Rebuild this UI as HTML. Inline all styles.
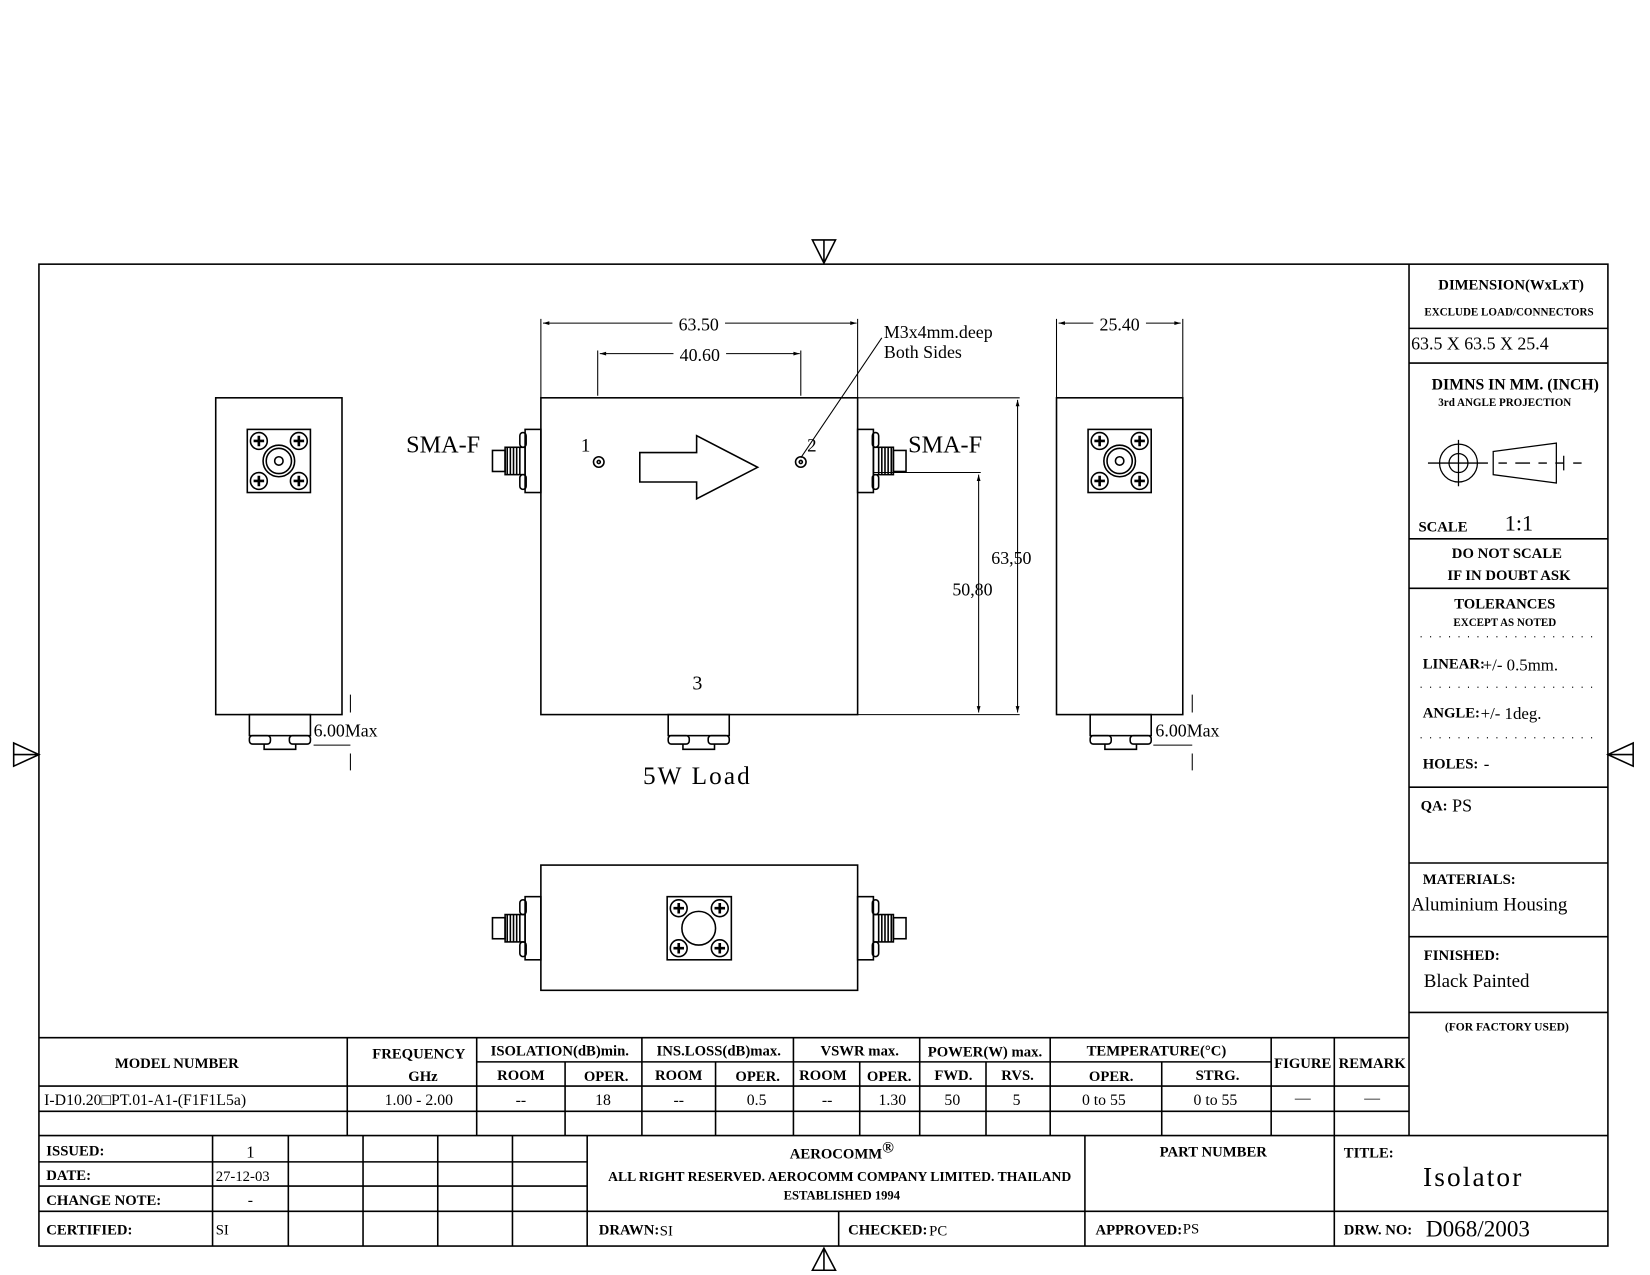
<!DOCTYPE html>
<html><head><meta charset="utf-8"><style>
html,body{margin:0;padding:0;background:#fff;}
svg{display:block}
text{font-family:"Liberation Serif",serif;fill:#000}
.b{font-weight:bold}
.s{font-family:"Liberation Sans",sans-serif}
</style></head><body>
<svg width="1650" height="1275" viewBox="0 0 1568 1211.5" preserveAspectRatio="none" xmlns="http://www.w3.org/2000/svg">
<defs>
<marker id="a" viewBox="0 0 10 10" refX="10" refY="5" markerWidth="10" markerHeight="6" orient="auto-start-reverse"><path d="M0,2 L10,5 L0,8 z" fill="#000"/></marker>
<g id="conn"><rect x="0" y="0" width="60" height="60" fill="none" stroke="#000" stroke-width="1.5"/>
<circle cx="11" cy="11" r="8" fill="none" stroke="#000"/><path d="M6,11h10M11,6v10" stroke="#000" stroke-width="2.5"/>
<circle cx="49" cy="11" r="8" fill="none" stroke="#000"/><path d="M44,11h10M49,6v10" stroke="#000" stroke-width="2.5"/>
<circle cx="11" cy="49" r="8" fill="none" stroke="#000"/><path d="M6,49h10M11,44v10" stroke="#000" stroke-width="2.5"/>
<circle cx="49" cy="49" r="8" fill="none" stroke="#000"/><path d="M44,49h10M49,44v10" stroke="#000" stroke-width="2.5"/>
<circle cx="30" cy="30" r="15" fill="none" stroke="#000"/><circle cx="30" cy="30" r="12" fill="none" stroke="#000"/><circle cx="30" cy="30" r="4" fill="none" stroke="#000"/></g>
<g id="sma"><rect x="31" y="0" width="15" height="60" fill="none" stroke="#000" stroke-width="1.5"/>
<rect x="26" y="3" width="6" height="14" rx="3" fill="none" stroke="#000"/><rect x="26" y="43" width="6" height="14" rx="3" fill="none" stroke="#000"/>
<rect x="12" y="17" width="19" height="26" fill="none" stroke="#000"/><rect x="0" y="20" width="12" height="20" fill="none" stroke="#000"/>
<path d="M14,17v26M17,17v26M20,17v26M23,17v26M26,17v26" stroke="#000" stroke-width="1.5"/></g>
<g id="load"><rect x="0" y="0" width="58" height="20" fill="none" stroke="#000" stroke-width="1.5"/><rect x="0" y="20" width="20" height="8" rx="3" fill="none" stroke="#000"/><rect x="38" y="20" width="20" height="8" rx="3" fill="none" stroke="#000"/><path d="M14,28v5h30v-5" fill="none" stroke="#000"/></g>
</defs>
<g stroke="#000" fill="none" stroke-width="1.5">
<rect x="37" y="251" width="1491" height="933"/>
<path d="M772,228h22l-11,22z M783,228v22"/>
<path d="M772,1207h22l-11,-21z M783,1207v-21"/>
<path d="M13,706v22l24,-11z M13,717h24"/>
<path d="M1552,706v22l-24,-11z M1552,717h-24"/>
<path d="M1339,251V1079 M1339,312H1528 M1339,345H1528 M1339,512H1528 M1339,559H1528 M1339,748H1528 M1339,820H1528 M1339,890H1528 M1339,962H1528"/>
<path d="M37,986H1339 M37,1032H1339 M37,1056H1339 M37,1079H1528 M453,1009H1208"/>
<path d="M330,986V1079 M453,986V1079 M537,1009V1079 M610,986V1079 M680,1009V1079 M754,986V1079 M817,1009V1079 M874,986V1079 M937,1009V1079 M998,986V1079 M1104,1009V1079 M1208,986V1079 M1268,986V1079"/>
<path d="M37,1104H558 M37,1127H558 M37,1151H1528 M202,1079V1184 M274,1079V1184 M345,1079V1184 M416,1079V1184 M487,1079V1184 M558,1079V1184 M797,1151V1184 M1031,1079V1184 M1268,1079V1184"/>
</g>
<g stroke="#000" fill="none" stroke-width="1.2">
<circle cx="1386" cy="440" r="18"/><circle cx="1386" cy="440" r="9"/><path d="M1381,440h10M1386,435v10 M1357,440h57 M1386,418v44"/>
<path d="M1419,429l60,-8v38l-60,-8z"/><path d="M1424,440h8M1440,440h14M1462,440h8M1478,440h8M1495,440h8 M1486,433v14"/>
<path d="M1350,605h170M1350,653h170M1350,701h170" stroke-dasharray="1,8"/>
</g>
<g stroke="#000" fill="none" stroke-width="1.5">
<rect x="205" y="378" width="120" height="301"/>
<use href="#conn" x="235" y="408"/>
<use href="#load" x="237" y="679"/>
<path d="M333,660v17 M333,716v16" stroke-width="1"/><path d="M298,708h35" stroke-width="1"/>
<rect x="514" y="378" width="301" height="301"/>
<use href="#sma" x="468" y="408"/>
<use href="#sma" transform="translate(861,408) scale(-1,1)"/>
<use href="#load" x="635" y="679"/>
<path d="M608,430h54v-16l58,30l-58,30v-16h-54z"/>
<circle cx="569" cy="439" r="5"/><circle cx="569" cy="439" r="1.5"/>
<circle cx="761" cy="439" r="5"/><circle cx="761" cy="439" r="1.5"/>
<path d="M761,435L838,321" stroke-width="1"/>
<g stroke-width="1">
<path d="M514,378V303 M815,378V303 M568,376V333 M761,376V333"/>
<path d="M516,307H814" marker-start="url(#a)" marker-end="url(#a)"/>
<path d="M570,336H760" marker-start="url(#a)" marker-end="url(#a)"/>
<path d="M815,378H969 M815,679H969 M830,449H932"/>
<path d="M967,380V677" marker-start="url(#a)" marker-end="url(#a)"/>
<path d="M930,451V677" marker-start="url(#a)" marker-end="url(#a)"/>
<path d="M1004,378V303 M1124,378V303"/>
<path d="M1006,307H1122" marker-start="url(#a)" marker-end="url(#a)"/>
</g>
<rect x="1004" y="378" width="120" height="301"/>
<use href="#conn" x="1034" y="408"/>
<use href="#load" x="1036" y="679"/>
<path d="M1133,660v17 M1133,716v16" stroke-width="1"/><path d="M1096,708h37" stroke-width="1"/>
<rect x="514" y="822" width="301" height="119"/>
<use href="#sma" x="468" y="852"/>
<use href="#sma" transform="translate(861,852) scale(-1,1)"/>
<rect x="634" y="852" width="61" height="60"/>
<circle cx="664" cy="882" r="16"/>
<circle cx="645" cy="863" r="8"/><circle cx="684" cy="863" r="8"/><circle cx="645" cy="901" r="8"/><circle cx="684" cy="901" r="8"/>
<path d="M640,863h10M645,858v10M679,863h10M684,858v10M640,901h10M645,896v10M679,901h10M684,896v10" stroke-width="2.5"/>
</g>
<g class="s" font-size="20">
<rect x="639" y="298" width="50" height="18" fill="#fff"/><text x="664" y="314" text-anchor="middle" font-size="17">63.50</text>
<rect x="640" y="327" width="50" height="18" fill="#fff"/><text x="665" y="343" text-anchor="middle" font-size="17">40.60</text>
<rect x="1039" y="298" width="50" height="18" fill="#fff"/><text x="1064" y="314" text-anchor="middle" font-size="17">25.40</text>
<text x="840" y="321" font-size="17">M3x4mm.deep</text>
<text x="840" y="340" font-size="17">Both Sides</text>
<text x="386" y="430" font-size="23">SMA-F</text>
<text x="863" y="430" font-size="23">SMA-F</text>
<text x="552" y="429" font-size="18">1</text>
<text x="767" y="429" font-size="18">2</text>
<text x="658" y="655" font-size="19">3</text>
<text x="942" y="536" font-size="17">63,50</text>
<text x="905" y="566" font-size="17">50,80</text>
<text x="298" y="700" font-size="17">6.00Max</text>
<text x="1098" y="700" font-size="17">6.00Max</text>
<text x="611" y="745" font-size="24" letter-spacing="2">5W Load</text>
</g>
<g class="b">
<text x="1436" y="275" text-anchor="middle" font-size="14">DIMENSION(WxLxT)</text>
<text x="1434" y="300" text-anchor="middle" font-size="10.5">EXCLUDE LOAD/CONNECTORS</text>
<text x="1440" y="370" text-anchor="middle" font-size="15">DIMNS IN MM. (INCH)</text>
<text x="1430" y="386" text-anchor="middle" font-size="10.5">3rd ANGLE PROJECTION</text>
<text x="1348" y="505" font-size="14">SCALE</text>
<text x="1432" y="530" text-anchor="middle" font-size="14">DO NOT SCALE</text>
<text x="1434" y="551" text-anchor="middle" font-size="14">IF IN DOUBT ASK</text>
<text x="1430" y="578" text-anchor="middle" font-size="14">TOLERANCES</text>
<text x="1430" y="595" text-anchor="middle" font-size="10.5">EXCEPT AS NOTED</text>
<text x="1352" y="635" font-size="14">LINEAR:</text>
<text x="1352" y="682" font-size="14">ANGLE:</text>
<text x="1352" y="730" font-size="14">HOLES:</text>
<text x="1350" y="770" font-size="14">QA:</text>
<text x="1352" y="840" font-size="14">MATERIALS:</text>
<text x="1353" y="912" font-size="14">FINISHED:</text>
<text x="1432" y="979" text-anchor="middle" font-size="11">(FOR FACTORY USED)</text>
</g>
<g class="s">
<text x="1341" y="332" font-size="17">63.5 X 63.5 X 25.4</text>
<text x="1430" y="504" font-size="21" style="font-family:'Liberation Serif',serif">1:1</text>
<text x="1409" y="637" font-size="16">+/-  0.5mm.</text>
<text x="1407" y="683" font-size="16">+/-  1deg.</text>
<text x="1410" y="731" font-size="16">-</text>
<text x="1380" y="771" font-size="17">PS</text>
<text x="1341" y="865" font-size="18">Aluminium Housing</text>
<text x="1353" y="938" font-size="18">Black Painted</text>
</g>
<g class="b" font-size="14" text-anchor="middle">
<text x="168" y="1015">MODEL NUMBER</text>
<text x="398" y="1006">FREQUENCY</text>
<text x="402" y="1027">GHz</text>
<text x="532" y="1003">ISOLATION(dB)min.</text>
<text x="683" y="1003">INS.LOSS(dB)max.</text>
<text x="817" y="1003">VSWR max.</text>
<text x="936" y="1004">POWER(W) max.</text>
<text x="1099" y="1003">TEMPERATURE(°C)</text>
<text x="1238" y="1015">FIGURE</text>
<text x="1304" y="1015">REMARK</text>
<text x="495" y="1026">ROOM</text><text x="576" y="1027">OPER.</text>
<text x="645" y="1026">ROOM</text><text x="720" y="1027">OPER.</text>
<text x="782" y="1026">ROOM</text><text x="845" y="1027">OPER.</text>
<text x="906" y="1026">FWD.</text><text x="967" y="1026">RVS.</text>
<text x="1056" y="1027">OPER.</text><text x="1157" y="1026">STRG.</text>
</g>
<g class="s" font-size="15" text-anchor="middle">
<text x="42" y="1050" text-anchor="start">I-D10.20□PT.01-A1-(F1F1L5a)</text>
<text x="398" y="1050">1.00  -  2.00</text>
<text x="495" y="1050">--</text><text x="573" y="1050">18</text>
<text x="645" y="1050">--</text><text x="719" y="1050">0.5</text>
<text x="786" y="1050">--</text><text x="848" y="1050">1.30</text>
<text x="905" y="1050">50</text><text x="966" y="1050">5</text>
<text x="1049" y="1050">0 to 55</text><text x="1155" y="1050">0 to 55</text>
<text x="1238" y="1048">—</text><text x="1304" y="1048">—</text>
</g>
<g class="b" font-size="14">
<text x="44" y="1098">ISSUED:</text>
<text x="44" y="1121">DATE:</text>
<text x="44" y="1145">CHANGE NOTE:</text>
<text x="44" y="1173">CERTIFIED:</text>
<text x="569" y="1173">DRAWN:</text>
<text x="806" y="1173">CHECKED:</text>
<text x="1041" y="1173">APPROVED:</text>
<text x="1277" y="1173">DRW. NO:</text>
<text x="1277" y="1100">TITLE:</text>
<text x="1153" y="1099" text-anchor="middle">PART NUMBER</text>
<text x="800" y="1101" text-anchor="middle">AEROCOMM<tspan dy="-6" font-size="15">®</tspan></text>
<text x="798" y="1122" text-anchor="middle" font-size="13">ALL RIGHT RESERVED. AEROCOMM COMPANY LIMITED. THAILAND</text>
<text x="800" y="1140" text-anchor="middle" font-size="12">ESTABLISHED 1994</text>
</g>
<g class="s">
<text x="238" y="1100" text-anchor="middle" font-size="16" style="font-family:'Liberation Serif',serif">1</text>
<text x="205" y="1122" font-size="14">27-12-03</text>
<text x="238" y="1145" text-anchor="middle" font-size="15">-</text>
<text x="205" y="1173" font-size="14">SI</text>
<text x="627" y="1174" font-size="14">SI</text>
<text x="883" y="1174" font-size="14">PC</text>
<text x="1124" y="1172" font-size="14">PS</text>
<text x="1400" y="1127" text-anchor="middle" font-size="26" letter-spacing="2">Isolator</text>
<text x="1355" y="1175" font-size="22">D068/2003</text>
</g>
</svg>
</body></html>
